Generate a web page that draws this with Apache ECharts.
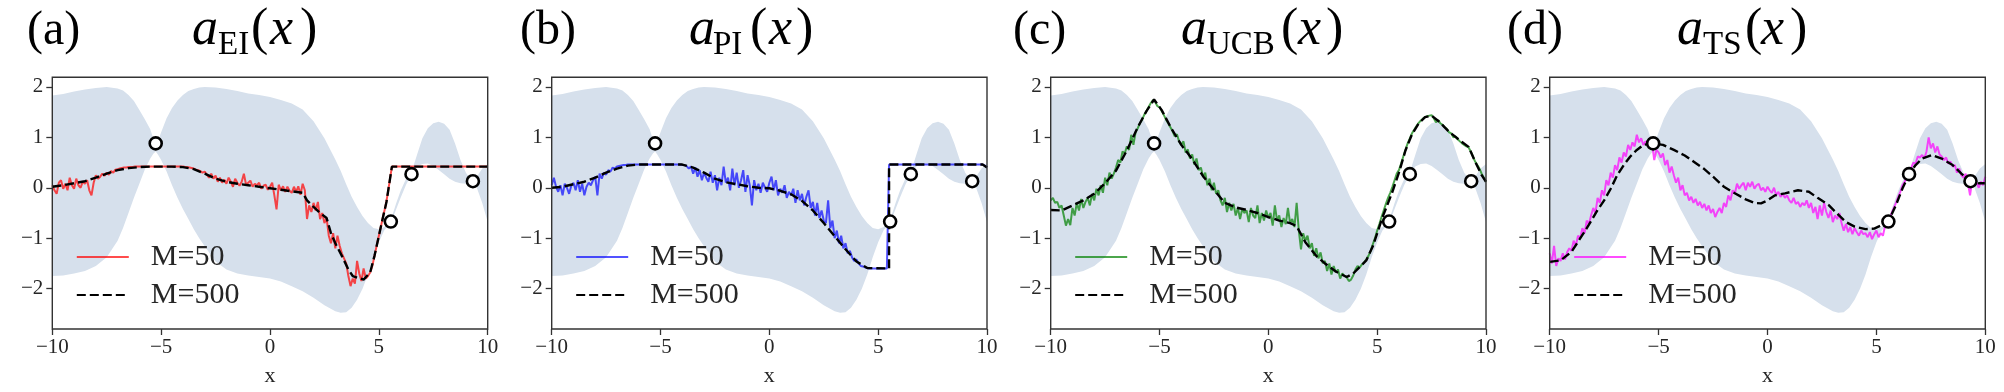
<!DOCTYPE html>
<html><head><meta charset="utf-8">
<script src="https://cdn.jsdelivr.net/npm/echarts@6/dist/echarts.min.js"></script>
<style>html,body{margin:0;padding:0;background:#fff}#c{width:2004px;height:392px}</style>
</head><body><div id="c"></div><script>
// ---------------- DATA ----------------
// GP confidence band (same in all panels)
const bandX = [-10,-9.5,-9,-8.5,-8,-7.5,-7,-6.75,-6.5,-6.25,-6,-5.75,-5.5,-5.35,-5.25,-5.15,-5,-4.75,-4.5,-4.25,-4,-3.75,-3.5,-3.25,-3,-2.5,-2,-1.5,-1,-0.5,0,0.5,1,1.5,2,2.5,3,3.25,3.5,3.75,4,4.25,4.5,4.75,5,5.25,5.55,5.8,6,6.25,6.5,6.75,7,7.25,7.5,7.75,8,8.25,8.5,8.75,9,9.2,9.35,9.5,9.75,10];
const bandUpper = [1.83,1.86,1.91,1.95,1.98,2.0,1.97,1.93,1.84,1.72,1.54,1.36,1.16,0.96,0.76,0.92,1.10,1.38,1.58,1.73,1.84,1.92,1.96,1.99,2.0,1.99,1.96,1.92,1.87,1.84,1.80,1.74,1.67,1.55,1.32,0.98,0.56,0.33,0.07,-0.18,-0.38,-0.56,-0.70,-0.80,-0.82,-0.78,-0.64,-0.30,-0.06,0.18,0.31,0.65,0.98,1.18,1.28,1.31,1.27,1.15,0.88,0.55,0.30,0.18,0.15,0.22,0.38,0.47];
const bandLower = [-1.75,-1.74,-1.70,-1.65,-1.55,-1.38,-1.05,-0.80,-0.50,-0.20,0.08,0.36,0.58,0.68,0.72,0.66,0.55,0.32,0.05,-0.20,-0.42,-0.62,-0.82,-1.0,-1.16,-1.46,-1.62,-1.70,-1.74,-1.77,-1.80,-1.86,-1.95,-2.05,-2.18,-2.33,-2.45,-2.48,-2.47,-2.38,-2.22,-2.0,-1.72,-1.38,-1.08,-0.84,-0.70,-0.42,-0.20,0.06,0.26,0.42,0.47,0.48,0.43,0.35,0.27,0.18,0.12,0.09,0.08,0.09,0.11,0.0,-0.30,-0.68];
// observations
const obsX = [-5.25, 5.55, 6.5, 9.32];
const obsY = [0.88, -0.67, 0.27, 0.13];
// sampling grid of the M=50 curves: -10 .. 10, step 0.1
const gridX = Array.from({length: 201}, (_, i) => Math.round((-10 + i * 0.1) * 10) / 10);

// (a) EI
const eiM50 = [
 0.05,-0.05,-0.12,0.10,0.15,-0.02,0.08,-0.05,0.20,0.05,
 -0.02,0.18,0.05,0.00,0.12,0.08,0.15,-0.05,-0.15,0.10,
 0.25,0.18,0.22,0.28,0.24,0.30,0.26,0.33,0.30,0.36,
 0.37,0.38,0.39,0.40,0.40,0.41,0.41,0.41,0.42,0.42,
 0.42,0.42,0.42,0.42,0.42,0.42,0.42,0.42,0.42,0.42,
 0.42,0.42,0.42,0.42,0.42,0.42,0.42,0.42,0.42,0.42,
 0.42,0.41,0.41,0.40,0.39,0.38,0.36,0.35,0.33,0.30,
 0.32,0.26,0.20,0.28,0.18,0.24,0.12,0.20,0.10,0.16,
 0.08,0.20,0.12,0.02,0.18,0.10,0.04,0.12,0.28,0.06,
 0.10,0.14,0.02,0.08,0.05,0.10,-0.02,0.04,0.06,-0.04,
 0.02,0.10,-0.15,-0.43,0.06,-0.05,0.03,-0.08,0.02,-0.06,
 -0.10,0.02,-0.08,0.03,-0.14,0.08,-0.05,-0.62,-0.35,-0.48,
 -0.30,-0.45,-0.28,-0.62,-0.50,-0.70,-0.60,-0.95,-1.10,-0.90,
 -1.20,-0.95,-1.15,-1.30,-1.40,-1.50,-1.75,-1.95,-1.80,-1.90,
 -1.45,-1.70,-1.85,-1.60,-1.80,-1.75,-1.68,-1.55,-1.35,-1.15,
 -0.95,-0.76,-0.55,-0.38,-0.14,0.14,0.42,0.42,0.42,0.42,
 0.42,0.42,0.42,0.42,0.42,0.42,0.42,0.42,0.42,0.42,
 0.42,0.42,0.42,0.42,0.42,0.42,0.42,0.42,0.42,0.42,
 0.42,0.42,0.42,0.42,0.42,0.42,0.42,0.42,0.42,0.42,
 0.42,0.42,0.42,0.42,0.42,0.42,0.42,0.42,0.42,0.42,
 0.42];
const eiM500X = [-10,-9.5,-9,-8.5,-8,-7.5,-7,-6.5,-6,-5.5,-5,-4.5,-4,-3.5,-3,-2.5,-2,-1.5,-1,-0.5,0,0.5,1,1.5,1.7,2.0,2.3,2.6,2.8,3.0,3.3,3.6,3.8,4.0,4.3,4.6,4.8,5.1,5.35,5.6,10];
const eiM500Y = [0.02,0.05,0.09,0.13,0.20,0.28,0.35,0.39,0.41,0.42,0.42,0.42,0.41,0.37,0.28,0.18,0.12,0.08,0.05,0.02,-0.01,-0.04,-0.07,-0.10,-0.25,-0.38,-0.50,-0.60,-0.90,-1.10,-1.35,-1.62,-1.75,-1.78,-1.82,-1.68,-1.35,-0.76,-0.28,0.42,0.42];

// (b) PI
const piM50 = [
 0.05,0.20,0.02,-0.08,0.05,-0.15,0.08,0.00,-0.12,0.04,
 0.10,-0.05,0.15,-0.08,0.08,-0.15,0.02,0.10,0.05,0.15,
 0.22,-0.15,0.28,0.18,0.30,0.26,0.35,0.32,0.40,0.38,
 0.42,0.43,0.44,0.45,0.45,0.46,0.46,0.46,0.46,0.46,
 0.46,0.46,0.46,0.46,0.46,0.46,0.46,0.46,0.46,0.46,
 0.46,0.46,0.46,0.46,0.46,0.46,0.46,0.46,0.46,0.46,
 0.45,0.45,0.43,0.38,0.42,0.28,0.40,0.22,0.35,0.15,
 0.30,0.20,0.12,0.32,0.10,0.25,-0.05,0.20,0.05,0.42,
 0.10,0.20,-0.05,0.38,0.05,0.30,0.00,0.15,0.35,-0.08,
 0.25,0.05,-0.35,0.15,-0.05,0.08,-0.10,0.10,0.00,-0.08,
 0.10,0.22,-0.05,0.15,-0.15,-0.02,-0.10,0.05,-0.20,-0.08,
 -0.15,-0.02,-0.30,-0.05,-0.25,-0.12,-0.35,-0.18,-0.05,-0.40,
 -0.28,-0.55,-0.30,-0.60,-0.45,-0.65,-0.70,-0.25,-0.80,-0.65,
 -1.00,-0.85,-1.10,-0.95,-1.20,-1.10,-1.30,-1.25,-1.38,-1.45,
 -1.42,-1.50,-1.55,-1.56,-1.58,-1.59,-1.60,-1.60,-1.60,-1.60,
 -1.60,-1.60,-1.60,-1.60,-1.60,0.46,0.46,0.46,0.46,0.46,
 0.46,0.46,0.46,0.46,0.46,0.46,0.46,0.46,0.46,0.46,
 0.46,0.46,0.46,0.46,0.46,0.46,0.46,0.46,0.46,0.46,
 0.46,0.46,0.46,0.46,0.46,0.46,0.46,0.46,0.46,0.46,
 0.46,0.46,0.46,0.46,0.46,0.46,0.46,0.46,0.46,0.44,
 0.40];
const piM500X = [-10,-9.5,-9,-8.5,-8,-7.5,-7,-6.5,-6,-4,-3.5,-3,-2.5,-2,-1.5,-1,-0.5,0,0.5,1,1.5,2,2.5,3,3.5,4,4.5,5.5,5.5,9.8,10];
const piM500Y = [0.0,0.02,0.07,0.12,0.20,0.30,0.38,0.44,0.46,0.46,0.40,0.30,0.18,0.11,0.07,0.03,0.0,-0.01,-0.06,-0.13,-0.26,-0.45,-0.70,-0.96,-1.22,-1.46,-1.59,-1.60,0.46,0.46,0.40];

// (c) UCB
const ucbM50 = [
 -0.25,-0.20,-0.30,-0.28,-0.40,-0.35,-0.55,-0.75,-0.62,-0.74,
 -0.40,-0.55,-0.30,-0.45,-0.22,-0.40,-0.28,-0.20,-0.35,-0.12,
 -0.25,-0.02,-0.15,0.05,-0.10,0.20,0.05,0.30,0.18,0.28,
 0.40,0.55,0.50,0.72,0.68,0.82,0.75,1.05,0.85,1.10,
 1.18,1.28,1.35,1.45,1.52,1.60,1.68,1.74,1.70,1.62,
 1.60,1.52,1.44,1.35,1.28,1.20,1.12,1.02,1.06,0.92,
 0.85,0.92,0.70,0.76,0.58,0.66,0.46,0.58,0.35,0.40,
 0.22,0.30,0.05,0.18,-0.05,0.10,-0.12,-0.05,-0.25,-0.35,
 -0.20,-0.48,-0.30,-0.45,-0.32,-0.55,-0.40,-0.62,-0.42,-0.50,
 -0.45,-0.68,-0.40,-0.55,-0.60,-0.35,-0.70,-0.50,-0.65,-0.45,
 -0.60,-0.50,-0.75,-0.35,-0.65,-0.55,-0.78,-0.60,-0.72,-0.40,
 -0.70,-0.62,-0.78,-0.30,-0.85,-1.22,-0.90,-1.05,-0.95,-1.20,
 -1.10,-1.35,-1.20,-1.40,-1.28,-1.50,-1.45,-1.65,-1.50,-1.72,
 -1.55,-1.68,-1.62,-1.80,-1.70,-1.75,-1.78,-1.85,-1.82,-1.74,
 -1.62,-1.55,-1.58,-1.52,-1.48,-1.42,-1.35,-1.25,-1.12,-1.00,
 -0.85,-0.72,-0.58,-0.45,-0.32,-0.20,-0.10,0.02,0.15,0.28,
 0.35,0.48,0.62,0.75,0.88,0.98,1.08,1.15,1.22,1.28,
 1.33,1.37,1.40,1.42,1.43,1.44,1.38,1.30,1.34,1.28,
 1.25,1.20,1.17,1.10,1.08,1.00,1.02,0.96,0.92,0.88,
 0.85,0.82,0.80,0.72,0.62,0.52,0.45,0.38,0.28,0.20,
 0.12];
const ucbM500X = [-10,-9.5,-9.0,-8.5,-8.0,-7.5,-7.0,-6.5,-6.0,-5.6,-5.25,-4.9,-4.5,-4.0,-3.5,-3.0,-2.5,-2.0,-1.5,-1.0,-0.5,0,0.5,1.0,1.3,1.7,2.2,2.6,3.1,3.6,3.9,4.2,4.5,4.8,5.25,5.7,6.0,6.3,6.6,6.9,7.2,7.5,7.85,8.3,8.8,9.2,9.5,9.8,10];
const ucbM500Y = [-0.44,-0.45,-0.35,-0.25,-0.12,0.09,0.34,0.74,1.20,1.52,1.75,1.54,1.21,0.85,0.57,0.23,-0.04,-0.30,-0.39,-0.44,-0.50,-0.58,-0.65,-0.70,-0.76,-1.08,-1.35,-1.50,-1.66,-1.77,-1.70,-1.57,-1.44,-1.16,-0.58,-0.08,0.30,0.74,1.06,1.27,1.40,1.43,1.31,1.11,0.94,0.81,0.52,0.25,0.12];

// (d) TS
const tsM50 = [
 -1.30,-1.50,-1.15,-1.55,-1.40,-1.45,-1.30,-1.42,-1.28,-1.20,
 -1.25,-1.05,-1.15,-0.95,-1.00,-0.80,-0.90,-0.65,-0.72,-0.55,
 -0.40,-0.50,-0.20,-0.30,-0.05,-0.15,0.15,0.05,0.30,0.20,
 0.45,0.35,0.60,0.50,0.70,0.62,0.85,0.75,0.90,0.82,
 1.05,0.90,0.98,0.85,0.92,0.88,0.85,0.88,0.55,0.75,
 0.70,0.60,0.68,0.45,0.55,0.30,0.42,0.25,0.10,0.20,
 -0.05,0.05,-0.15,-0.10,-0.25,-0.18,-0.30,-0.22,-0.35,-0.28,
 -0.40,-0.32,-0.45,-0.35,-0.50,-0.42,-0.58,-0.48,-0.40,-0.50,
 -0.30,-0.38,-0.15,-0.25,-0.05,-0.12,0.08,-0.02,0.05,0.10,
 -0.05,0.10,0.02,0.12,-0.02,0.05,0.08,-0.05,0.00,-0.08,
 0.02,-0.05,-0.10,0.00,-0.15,-0.08,-0.18,-0.12,-0.20,-0.15,
 -0.25,-0.30,-0.20,-0.32,-0.28,-0.38,-0.30,-0.35,-0.25,-0.40,
 -0.30,-0.50,-0.38,-0.62,-0.35,-0.55,-0.30,-0.48,-0.60,-0.45,
 -0.68,-0.55,-0.62,-0.50,-0.70,-0.85,-0.72,-0.88,-0.78,-0.92,
 -0.80,-0.88,-0.95,-0.85,-0.92,-0.90,-0.98,-0.88,-1.02,-0.92,
 -0.85,-0.98,-0.90,-0.95,-0.75,-0.66,-0.62,-0.50,-0.40,-0.30,
 -0.18,-0.08,0.05,0.12,0.22,0.32,0.40,0.50,0.48,0.62,
 0.60,0.65,0.58,0.72,1.00,0.78,0.88,0.70,0.82,0.66,
 0.62,0.55,0.60,0.48,0.52,0.42,0.45,0.30,0.38,0.25,
 0.20,0.28,0.10,-0.15,0.15,0.05,0.10,0.00,0.12,0.05,
 0.22];
const tsM500X = [-10,-9.5,-9.0,-8.7,-8.4,-8.1,-7.8,-7.5,-7.2,-6.9,-6.6,-6.3,-6.0,-5.7,-5.25,-4.8,-4.3,-3.8,-3.4,-2.9,-2.5,-2.0,-1.5,-1.0,-0.6,-0.3,0,0.35,0.8,1.4,1.9,2.3,2.8,3.1,3.6,4.0,4.5,4.9,5.25,5.55,5.9,6.2,6.5,6.8,7.1,7.55,8.0,8.5,8.9,9.3,9.7,10];
const tsM500Y = [-1.47,-1.44,-1.27,-1.07,-0.87,-0.66,-0.44,-0.25,-0.02,0.25,0.45,0.62,0.75,0.85,0.88,0.85,0.75,0.64,0.52,0.37,0.22,0.02,-0.11,-0.23,-0.30,-0.31,-0.25,-0.15,-0.11,-0.05,-0.08,-0.20,-0.34,-0.47,-0.68,-0.77,-0.82,-0.81,-0.74,-0.67,-0.34,-0.01,0.27,0.45,0.58,0.65,0.58,0.45,0.28,0.13,0.09,0.09];

const yTicks = [-2, -1, 0, 1, 2];
const panelLabels = ['(a)', '(b)', '(c)', '(d)'];
const panelSubs = ['EI', 'PI', 'UCB', 'TS'];
const legendLabels = ['M=50', 'M=500'];

// ---------------- LAYOUT / STYLE ----------------
const panels = [
  {m50: eiM50,  m5X: eiM500X,  m5Y: eiM500Y,  color: 'rgba(255,0,0,0.7)'},
  {m50: piM50,  m5X: piM500X,  m5Y: piM500Y,  color: 'rgba(0,0,255,0.68)'},
  {m50: ucbM50, m5X: ucbM500X, m5Y: ucbM500Y, color: 'rgba(0,128,0,0.7)'},
  {m50: tsM50,  m5X: tsM500X,  m5Y: tsM500Y,  color: 'rgba(255,0,255,0.7)'}
];
const boxes = [
  {left: 52.3, top: 77.3, width: 435.4, height: 251.7},
  {left: 551.7, top: 77.3, width: 435.3, height: 251.7},
  {left: 1050.7, top: 77.3, width: 435.3, height: 251.7},
  {left: 1549.7, top: 77.3, width: 435.6, height: 251.7}
];
const titlePos = [
  {lab: 27, a: 192, sub: 218, lp: 251, x: 270, rp: 300},
  {lab: 520, a: 689, sub: 713, lp: 750, x: 769, rp: 796},
  {lab: 1013, a: 1181, sub: 1207, lp: 1281, x: 1298, rp: 1326},
  {lab: 1507, a: 1677, sub: 1703, lp: 1745, x: 1761, rp: 1790}
];
const BAND = '#d6e0ec';
const INK = '#262626';
const SERIF = 'Liberation Serif';
const minus = v => (v < 0 ? '\u2212' + Math.abs(v) : String(v));

const grid = [], xAxis = [], yAxis = [], series = [], legend = [], graphic = [];
boxes.forEach((b, i) => {
  grid.push({left: b.left, top: b.top, width: b.width, height: b.height,
    show: true, borderColor: '#333', borderWidth: 1.4, backgroundColor: 'transparent', z: 10});
  xAxis.push({type: 'value', gridIndex: i, min: -10, max: 10, interval: 5,
    axisLine: {show: false, onZero: false}, splitLine: {show: false},
    axisTick: {show: true, length: 6, lineStyle: {color: '#333', width: 1.3}},
    axisLabel: {fontFamily: SERIF, fontSize: 21, color: INK, margin: 8, formatter: minus},
    name: 'x', nameLocation: 'middle', nameGap: 36,
    nameTextStyle: {fontFamily: SERIF, fontSize: 22, color: INK}});
  yAxis.push({type: 'value', gridIndex: i, min: -2.8, max: 2.19,
    axisLine: {show: false, onZero: false}, splitLine: {show: false},
    axisTick: {show: true, length: 6, customValues: yTicks, lineStyle: {color: '#333', width: 1.3}},
    axisLabel: {fontFamily: SERIF, fontSize: 21, color: INK, margin: 9, customValues: yTicks, formatter: minus}});
  const p = panels[i];
  const n50 = 'p' + i + '_50', n500 = 'p' + i + '_500';
  series.push({type: 'custom', xAxisIndex: i, yAxisIndex: i, clip: true, silent: true, z: 1,
    data: [[0, 0]],
    renderItem: (params, api) => {
      const pts = [];
      for (let k = 0; k < bandX.length; k++) pts.push(api.coord([bandX[k], bandUpper[k]]));
      for (let k = bandX.length - 1; k >= 0; k--) pts.push(api.coord([bandX[k], bandLower[k]]));
      return {type: 'polygon', shape: {points: pts}, style: {fill: BAND}};
    }});
  series.push({type: 'line', name: n50, xAxisIndex: i, yAxisIndex: i, z: 3,
    symbol: 'none', showSymbol: false, silent: true, clip: true,
    data: gridX.map((x, k) => [x, p.m50[k]]),
    lineStyle: {color: p.color, width: 2}, itemStyle: {color: p.color}});
  series.push({type: 'line', name: n500, xAxisIndex: i, yAxisIndex: i, z: 4,
    symbol: 'none', showSymbol: false, silent: true, clip: true,
    data: p.m5X.map((x, k) => [x, p.m5Y[k]]),
    lineStyle: {color: '#000', width: 2.4, type: [9, 4]}, itemStyle: {color: '#000'}});
  series.push({type: 'scatter', xAxisIndex: i, yAxisIndex: i, z: 6, silent: true,
    symbol: 'circle', symbolSize: 12,
    data: obsX.map((x, k) => [x, obsY[k]]),
    itemStyle: {color: '#fff', borderColor: '#000', borderWidth: 2.6, opacity: 1}});
  legend.push({orient: 'vertical', left: b.left + 18.5, top: 237, padding: 5,
    itemWidth: 52, itemHeight: 20, itemGap: 8, selectedMode: false, data: [n50, n500],
    itemStyle: {opacity: 0},
    formatter: name => (name.endsWith('_500') ? legendLabels[1] : legendLabels[0]),
    textStyle: {fontFamily: SERIF, fontSize: 30, color: INK, lineHeight: 30, padding: [0, 0, 0, 17]}});
  const t = titlePos[i];
  const ty = 30;
  graphic.push({type: 'text', x: t.lab, y: 31, style: {text: panelLabels[i], fontFamily: SERIF, fontSize: 48, fill: '#000', align: 'left', verticalAlign: 'middle'}});
  graphic.push({type: 'text', x: t.a, y: ty, style: {text: 'a', fontFamily: SERIF, fontStyle: 'italic', fontSize: 52, fill: '#000', align: 'left', verticalAlign: 'middle'}});
  graphic.push({type: 'text', x: t.sub, y: ty + 15, style: {text: panelSubs[i], fontFamily: SERIF, fontSize: 33, fill: '#000', align: 'left', verticalAlign: 'middle'}});
  graphic.push({type: 'text', x: t.lp, y: ty, style: {text: '(', fontFamily: SERIF, fontSize: 52, fill: '#000', align: 'left', verticalAlign: 'middle'}});
  graphic.push({type: 'text', x: t.x, y: ty, style: {text: 'x', fontFamily: SERIF, fontStyle: 'italic', fontSize: 52, fill: '#000', align: 'left', verticalAlign: 'middle'}});
  graphic.push({type: 'text', x: t.rp, y: ty, style: {text: ')', fontFamily: SERIF, fontSize: 52, fill: '#000', align: 'left', verticalAlign: 'middle'}});
});

const chart = echarts.init(document.getElementById('c'), null, {renderer: 'canvas'});
chart.setOption({animation: false, backgroundColor: '#fff', grid, xAxis, yAxis, series, legend, graphic});
</script></body></html>
